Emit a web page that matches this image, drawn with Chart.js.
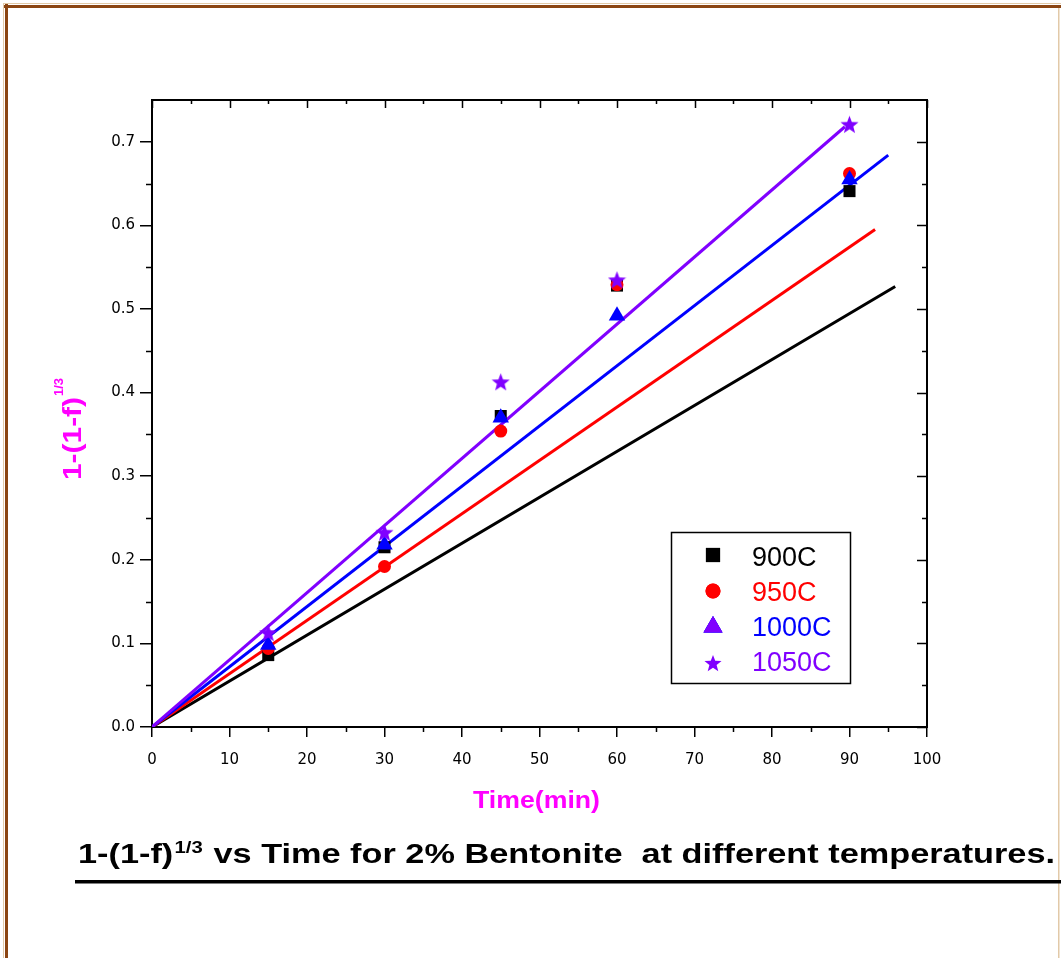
<!DOCTYPE html>
<html>
<head>
<meta charset="utf-8">
<title>1-(1-f)^1/3 vs Time for 2% Bentonite</title>
<script src="https://cdn.jsdelivr.net/npm/chart.js@4"></script>
<style>
  html, body { margin: 0; padding: 0; background: #fff; }
  #wrap { width: 1061px; height: 958px; }
</style>
</head>
<body>
<div id="wrap"><canvas id="myChart" width="1061" height="958"></canvas></div>
<script>
// ---- data ----
const timeMin = [15, 30, 45, 60, 90];
const conv900 = [0.086, 0.215, 0.372, 0.528, 0.641];
const conv950 = [0.094, 0.192, 0.354, 0.529, 0.662];
const conv1000 = [0.098, 0.218, 0.370, 0.492, 0.655];
const conv1050 = [0.113, 0.233, 0.413, 0.535, 0.721];

// linear fits through the origin: end point of each fitted line
const fitEndTime = [95.9, 93.3, 95.0, 89.4];
const fitEndConv = [0.527, 0.595, 0.684, 0.718];

const seriesNames = ["900C", "950C", "1000C", "1050C"];
const xTicks = [0, 10, 20, 30, 40, 50, 60, 70, 80, 90, 100];
const yTicks = [0.0, 0.1, 0.2, 0.3, 0.4, 0.5, 0.6, 0.7];
const xMinorTicks = [5, 15, 25, 35, 45, 55, 65, 75, 85, 95];
const yMinorTicks = [0.05, 0.15, 0.25, 0.35, 0.45, 0.55, 0.65];

const colors = ["#000000", "#ff0000", "#0000ff", "#8000ff"];
const titleColor = "#ff00ff";

function makeStar(size, color) {
  const c = document.createElement("canvas");
  c.width = c.height = size;
  const g = c.getContext("2d");
  const cx = size / 2, cy = size / 2 + size * 0.05;
  const R = size / 2, r = R * 0.42;
  g.beginPath();
  for (let i = 0; i < 10; i++) {
    const a = -Math.PI / 2 + i * Math.PI / 5;
    const rr = i % 2 ? r : R;
    g.lineTo(cx + rr * Math.cos(a), cy + rr * Math.sin(a));
  }
  g.closePath();
  g.fillStyle = color;
  g.fill();
  return c;
}

const starPoint = makeStar(19, colors[3]);
const starLegend = makeStar(18, colors[3]);

const allConv = [conv900, conv950, conv1000, conv1050];
const pointStyles = ["rect", "circle", "triangle", starPoint];
const pointRadii = [8.5, 6.5, 9.5, 9];
const legendStyles = ["rect", "circle", "triangle", starLegend];
const legendRadii = [10, 7.5, 11, 9];

var datasets = [];
// later series sit on top of earlier ones, markers above the fit lines
allConv.forEach(function (vals, i) {
  datasets.push({
    label: seriesNames[i],
    data: timeMin.map(function (t, k) { return { x: t, y: vals[k] }; }),
    showLine: false,
    order: 4 - i,
    pointStyle: pointStyles[i],
    pointRadius: pointRadii[i],
    pointHoverRadius: pointRadii[i],
    backgroundColor: colors[i],
    borderColor: colors[i],
    borderWidth: 0,
  });
});
fitEndTime.forEach(function (t, i) {
  datasets.push({
    label: seriesNames[i] + " fit",
    data: [{ x: 0, y: 0 }, { x: t, y: fitEndConv[i] }],
    showLine: true,
    order: 10 - i,
    pointRadius: 0,
    borderColor: colors[i],
    borderWidth: 3,
    fill: false,
  });
});

/* extra drawing: frame, minor/inside ticks, legend box, axis titles, caption */
const decorPlugin = {
  id: "decor",
  beforeDraw: function (chart) {
    const ctx = chart.ctx;
    ctx.save();
    ctx.fillStyle = "#ffffff";
    ctx.fillRect(0, 0, chart.width, chart.height);
    // brown page frame
    ctx.fillStyle = "#e2c9a8";
    ctx.fillRect(3, 3, chart.width - 3, 1);
    ctx.fillRect(3, 3, 1, chart.height);
    ctx.fillRect(chart.width - 3, 8, 1.5, chart.height);
    ctx.fillStyle = "#8b4513";
    ctx.fillRect(4, 5, chart.width - 4, 3);
    ctx.fillRect(5, 4, 3, chart.height);
    ctx.restore();
  },
  afterDraw: function (chart) {
    const ctx = chart.ctx;
    const xs = chart.scales.x, ys = chart.scales.y;
    const a = chart.chartArea;
    ctx.save();
    ctx.strokeStyle = "#000";
    ctx.lineWidth = 1.5;
    ctx.beginPath();
    // bottom minor ticks (outside) and top ticks (inside)
    xMinorTicks.forEach(function (v) {
      const px = Math.round(xs.getPixelForValue(v)) + 0.5;
      ctx.moveTo(px, a.bottom); ctx.lineTo(px, a.bottom + 5);
      ctx.moveTo(px, a.top); ctx.lineTo(px, a.top + 4);
    });
    xTicks.forEach(function (v) {
      const px = Math.round(xs.getPixelForValue(v)) + 0.5;
      ctx.moveTo(px, a.top); ctx.lineTo(px, a.top + 8);
    });
    // left minor ticks (outside) and right ticks (inside)
    yMinorTicks.forEach(function (v) {
      const py = Math.round(ys.getPixelForValue(v)) + 0.5;
      ctx.moveTo(a.left, py); ctx.lineTo(a.left - 6, py);
      ctx.moveTo(a.right, py); ctx.lineTo(a.right - 5, py);
    });
    yTicks.forEach(function (v) {
      const py = Math.round(ys.getPixelForValue(v)) + 0.5;
      ctx.moveTo(a.right, py); ctx.lineTo(a.right - 10, py);
    });
    ctx.stroke();

    // legend box
    const lx = 671, ly = 532, lw = 179, lh = 151;
    ctx.fillStyle = "#fff";
    ctx.fillRect(lx, ly, lw, lh);
    ctx.lineWidth = 1.5;
    ctx.strokeRect(lx + 0.5, ly + 0.5, lw, lh);
    const rowY = [555, 591, 627, 663];
    const textBase = [566, 601, 636, 671];
    seriesNames.forEach(function (name, i) {
      ctx.fillStyle = colors[i];
      ctx.strokeStyle = colors[i];
      ctx.lineWidth = 0;
      Chart.helpers.drawPoint(ctx, { pointStyle: legendStyles[i], radius: legendRadii[i], borderWidth: 0, rotation: 0 }, 713, rowY[i]);
      ctx.fill();
      ctx.font = "27px 'Liberation Sans', Arial, sans-serif";
      ctx.textBaseline = "alphabetic";
      ctx.textAlign = "left";
      ctx.fillText(name, 752, textBase[i]);
    });

    // x axis title
    ctx.fillStyle = titleColor;
    ctx.font = "bold 24px 'Liberation Sans', Arial, sans-serif";
    let w = ctx.measureText("Time(min)").width;
    ctx.save();
    ctx.translate(473, 808);
    ctx.scale(127 / w, 1);
    ctx.fillText("Time(min)", 0, 0);
    ctx.restore();

    // y axis title, rotated, with superscript
    ctx.save();
    ctx.translate(81, 480);
    ctx.rotate(-Math.PI / 2);
    ctx.font = "bold 25px 'Liberation Sans', Arial, sans-serif";
    w = ctx.measureText("1-(1-f)").width;
    ctx.save();
    ctx.scale(83 / w, 1);
    ctx.fillText("1-(1-f)", 0, 0);
    ctx.restore();
    ctx.font = "bold 13px 'Liberation Sans', Arial, sans-serif";
    ctx.fillText("1/3", 84, -18);
    ctx.restore();

    // caption under the plot
    ctx.fillStyle = "#000";
    const mainFont = "bold 27px 'Liberation Sans Narrow', 'Liberation Sans', sans-serif";
    const supFont = "bold 16px 'Liberation Sans Narrow', 'Liberation Sans', sans-serif";
    const part1 = "1-(1-f)", sup = "1/3", part2 = " vs Time for 2% Bentonite  at different temperatures.";
    ctx.font = mainFont;
    const w1 = ctx.measureText(part1).width, w3 = ctx.measureText(part2).width;
    ctx.font = supFont;
    const w2 = ctx.measureText(sup).width;
    const sx = 977 / (w1 + w2 + 2 + w3);
    ctx.save();
    ctx.translate(78, 863);
    ctx.scale(sx, 1);
    ctx.font = mainFont;
    ctx.fillText(part1, 0, 0);
    ctx.font = supFont;
    ctx.fillText(sup, w1 + 1, -10);
    ctx.font = mainFont;
    ctx.fillText(part2, w1 + w2 + 2, 0);
    ctx.restore();
    ctx.fillRect(75, 880, chart.width - 75, 3.5);
    ctx.restore();
  },
};

Chart.defaults.font.family = "'DejaVu Sans', Verdana, sans-serif";
Chart.defaults.color = "#000";

var ctx = document.getElementById("myChart").getContext("2d");
var chart1 = new Chart(ctx, {
  type: "scatter",
  data: { datasets: datasets },
  options: {
    responsive: false,
    animation: false,
    devicePixelRatio: 1,
    layout: { padding: 0 },
    plugins: {
      legend: { display: false },
      tooltip: { enabled: false },
      title: { display: false },
    },
    scales: {
      x: {
        type: "linear",
        position: "bottom",
        min: 0,
        max: 100,
        afterBuildTicks: function (s) { s.ticks = xTicks.map(function (v) { return { value: v }; }); },
        afterFit: function (s) { s.height = 958 - 727; },
        ticks: { font: { size: 15 }, padding: 14, maxRotation: 0, callback: function (v) { return String(v); } },
        grid: { drawOnChartArea: false, drawTicks: true, tickLength: 10, color: "#000", lineWidth: 1.5 },
        border: { color: "#000", width: 2 },
      },
      y: {
        type: "linear",
        position: "left",
        min: 0,
        max: 0.75,
        afterBuildTicks: function (s) { s.ticks = yTicks.map(function (v) { return { value: v }; }); },
        afterFit: function (s) { s.width = 152; },
        ticks: { font: { size: 15 }, padding: 5, callback: function (v) { return v.toFixed(1); } },
        grid: { drawOnChartArea: false, drawTicks: true, tickLength: 12, color: "#000", lineWidth: 1.5 },
        border: { color: "#000", width: 2 },
      },
      x2: {
        type: "linear",
        position: "top",
        min: 0,
        max: 100,
        afterFit: function (s) { s.height = 100; },
        ticks: { display: false },
        grid: { drawOnChartArea: false, drawTicks: false },
        border: { color: "#000", width: 2 },
      },
      y2: {
        type: "linear",
        position: "right",
        min: 0,
        max: 0.75,
        afterFit: function (s) { s.width = 1061 - 927; },
        ticks: { display: false },
        grid: { drawOnChartArea: false, drawTicks: false },
        border: { color: "#000", width: 2 },
      },
    },
  },
  plugins: [decorPlugin],
});
</script>
</body>
</html>
